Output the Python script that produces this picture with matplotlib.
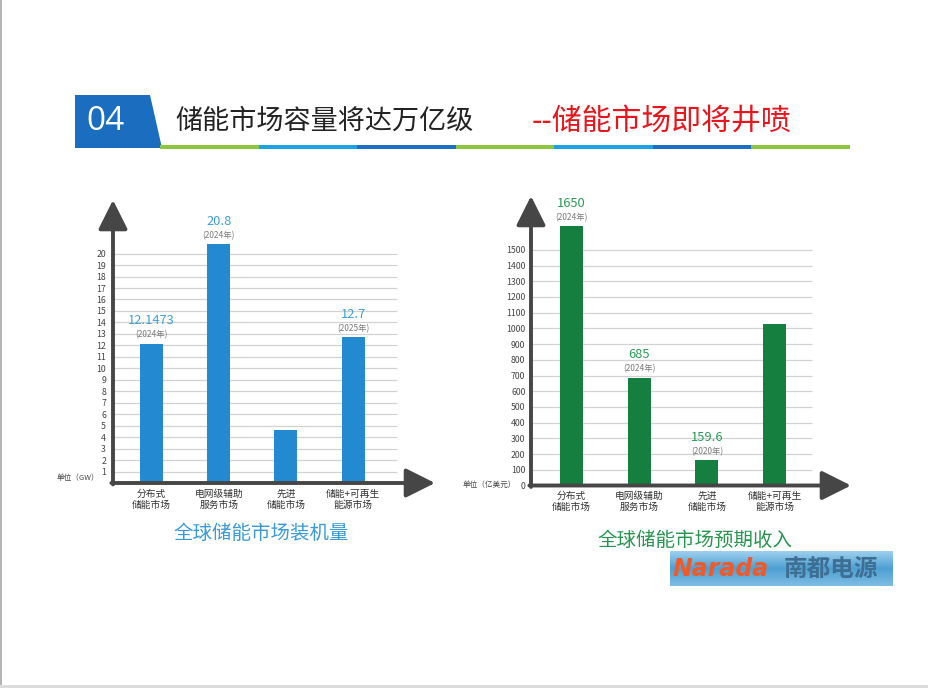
import matplotlib
matplotlib.use('Agg')
import matplotlib.pyplot as plt
from matplotlib.patches import Polygon, Rectangle
from matplotlib.colors import LinearSegmentedColormap
import numpy as np

plt.rcParams['font.family'] = ['Noto Sans CJK SC', 'DejaVu Sans']

# ---------------- data ----------------
header_title = '储能市场容量将达万亿级'
header_sub = '--储能市场即将井喷'
header_num = '04'

left_title = '全球储能市场装机量'
left_unit = '单位（GW）'
left_categories = ['分布式\n储能市场', '电网级辅助\n服务市场', '先进\n储能市场', '储能+可再生\n能源市场']
left_values = [12.1473, 20.8, 4.6, 12.7]
left_labels = ['12.1473', '20.8', None, '12.7']
left_years = ['(2024年)', '(2024年)', None, '(2025年)']
left_ticks = list(range(1, 21))

right_title = '全球储能市场预期收入'
right_unit = '单位（亿美元）'
right_categories = ['分布式\n储能市场', '电网级辅助\n服务市场', '先进\n储能市场', '储能+可再生\n能源市场']
right_values = [1650, 685, 159.6, 1030]
right_labels = ['1650', '685', '159.6', None]
right_years = ['(2024年)', '(2024年)', '(2020年)', None]
right_ticks = list(range(0, 1501, 100))

# ---------------- figure ----------------
W, H = 929, 688
fig = plt.figure(figsize=(W / 100, H / 100), dpi=100)
fig.patch.set_facecolor('white')

bg = fig.add_axes([0, 0, 1, 1])
bg.set_xlim(0, W)
bg.set_ylim(H, 0)
bg.axis('off')

# slide borders
bg.add_patch(Rectangle((0, 0), 2, H, color='#b5b5b5', lw=0))
bg.add_patch(Rectangle((0, H - 3), W, 3, color='#dcdcdc', lw=0))

# header
bg.add_patch(Polygon([(75, 95), (150, 95), (162, 148), (75, 148)], closed=True,
                     color='#1b6dbf', lw=0))
bg.text(106, 122, header_num, color='white', fontsize=24, ha='center', va='center',
        family=['Open Sans', 'DejaVu Sans'])
bg.text(175, 121, header_title, color='#222222', fontsize=19.5, ha='left', va='center')
bg.text(532, 121, header_sub, color='#e8161c', fontsize=21.5, ha='left', va='center')
strip_colors = ['#8dc63f', '#1ba3e3', '#1c6fc2', '#8dc63f', '#1ba3e3', '#1c6fc2', '#8dc63f']
xs = np.linspace(160, 850, len(strip_colors) + 1)
for i, c in enumerate(strip_colors):
    bg.add_patch(Rectangle((xs[i], 144.5), xs[i + 1] - xs[i], 4.5, color=c, lw=0))

# chart titles and units
bg.text(261, 533, left_title, color='#3a9ad6', fontsize=14, ha='center', va='center')
bg.text(695, 540, right_title, color='#27944f', fontsize=14, ha='center', va='center')
bg.text(99, 478, left_unit, color='#444444', fontsize=5.5, ha='right', va='center')
bg.text(516, 485, right_unit, color='#444444', fontsize=5.5, ha='right', va='center')


def px_axes(x0, x1, y_top, y_bottom):
    return fig.add_axes([x0 / W, 1 - y_bottom / H, (x1 - x0) / W, (y_bottom - y_top) / H])


def draw_chart(ax, cats, vals, labels, years, ticks, bar_color, label_color,
               xlim, ylim, grid_right, pad):
    x = np.arange(len(cats))
    ax.set_xlim(xlim)
    ax.set_ylim(ylim)
    ax.patch.set_alpha(0)
    for s in ax.spines.values():
        s.set_visible(False)
    for t in ticks:
        if t > 0:
            ax.hlines(t, xlim[0], grid_right, color='#d2d2d2', lw=0.9, zorder=1)
    ax.bar(x, vals, width=0.34, color=bar_color, zorder=2)
    ax.set_yticks(ticks)
    ax.set_yticklabels([str(t) for t in ticks], fontsize=6.3, color='#444444')
    ax.tick_params(axis='y', length=0, pad=pad)
    ax.set_xticks(x)
    ax.set_xticklabels(cats, fontsize=7, color='#333333', linespacing=1.15)
    ax.tick_params(axis='x', length=0, pad=4)
    for xi, v, lab, yr in zip(x, vals, labels, years):
        if lab:
            ax.annotate(lab, xy=(xi, v), xytext=(0, 16.5), textcoords='offset points',
                        ha='center', va='center', fontsize=9.3, color=label_color)
        if yr:
            ax.annotate(yr, xy=(xi, v), xytext=(0, 6.5), textcoords='offset points',
                        ha='center', va='center', fontsize=6, color='#7a7a7a')
    arrow = dict(arrowstyle='-|>,head_length=1.2,head_width=0.6', lw=2.8,
                 color='#464646', mutation_scale=15, shrinkA=0, shrinkB=0)
    ax.annotate('', xy=(1, 0), xytext=(-0.005, 0), xycoords='axes fraction',
                textcoords='axes fraction', arrowprops=arrow, annotation_clip=False)
    ax.annotate('', xy=(0, 1), xytext=(0, -0.005), xycoords='axes fraction',
                textcoords='axes fraction', arrowprops=arrow, annotation_clip=False)


# left chart: axis at x=113px, zero at y=483px, 67.2px per category, 11.47px per GW
axL = px_axes(113, 435, 200, 483)
draw_chart(axL, left_categories, left_values, left_labels, left_years, left_ticks,
           '#2389d0', '#3e9fd8',
           xlim=(-(151.5 - 113) / 67.2, (435 - 151.5) / 67.2),
           ylim=(0, 283 / 11.47),
           grid_right=(397 - 151.5) / 67.2, pad=5)

# right chart: axis at x=531px, zero at y=485.5px, 67.7px per category, 0.1571px per unit
axR = px_axes(531, 851, 196, 485.5)
draw_chart(axR, right_categories, right_values, right_labels, right_years, right_ticks,
           '#157f3f', '#2a9a56',
           xlim=(-(571.5 - 531) / 67.7, (851 - 571.5) / 67.7),
           ylim=(0, 289.5 / 0.1571),
           grid_right=(812 - 571.5) / 67.7, pad=4)

# logo
lg = px_axes(670, 893, 551, 586)
grad = np.linspace(0, 1, 256).reshape(-1, 1)
cmap = LinearSegmentedColormap.from_list('lg', ['#9fd0ee', '#4d9fd3', '#7fbde4'])
lg.imshow(grad, aspect='auto', cmap=cmap, extent=(0, 1, 0, 1))
lg.set_xlim(0, 1)
lg.set_ylim(0, 1)
lg.axis('off')
lg.text(0.01, 0.5, 'Narada', color='#f05a28', fontsize=17, fontweight='bold',
        style='italic', ha='left', va='center', family=['DejaVu Sans'])
lg.text(0.51, 0.5, '南都电源', color='#3e6f93', fontsize=17, fontweight='bold',
        ha='left', va='center')

fig.savefig('out.png', dpi=100)
